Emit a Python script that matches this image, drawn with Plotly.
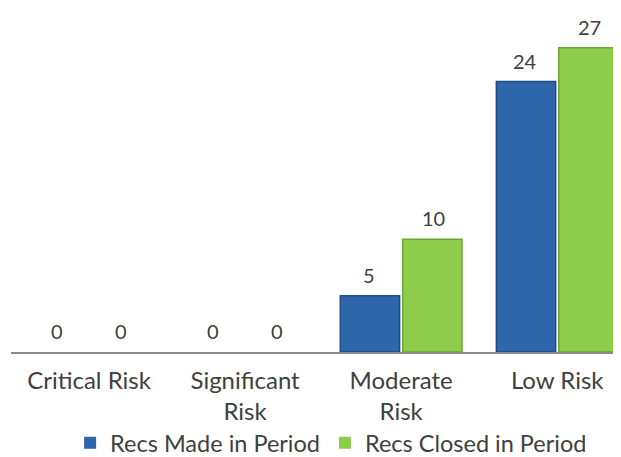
import plotly.graph_objects as go

categories = ["Critical Risk", "Significant<br>Risk", "Moderate<br>Risk", "Low Risk"]
made = [0, 0, 5, 24]
closed = [0, 0, 10, 27]
series_names = ["Recs Made in Period", "Recs Closed in Period"]

font_family = "Lato, 'Noto Sans', sans-serif"
text_color = "#404040"
blue, blue_edge = "#2E66AB", "#1F4B84"
green, green_edge = "#8DCD49", "#6DA637"

fig = go.Figure()
fig.add_trace(go.Bar(
    x=categories, y=made, name=series_names[0],
    marker=dict(color=blue, line=dict(color=blue_edge, width=[0 if v == 0 else 1.5 for v in made])),
))
fig.add_trace(go.Bar(
    x=categories, y=closed, name=series_names[1],
    marker=dict(color=green, line=dict(color=green_edge, width=[0 if v == 0 else 1.5 for v in closed])),
))

# value labels above each bar
for vals, shift in ((made, -32), (closed, 32)):
    for cat, v in zip(categories, vals):
        fig.add_annotation(x=cat, y=v, text=str(v), showarrow=False,
                           xshift=shift, yshift=7, yanchor="bottom",
                           font=dict(size=20, color=text_color, family=font_family))

fig.update_layout(
    width=621, height=457,
    margin=dict(l=3, r=0, t=6, b=107),
    paper_bgcolor="white", plot_bgcolor="white",
    barmode="group", bargap=0.2, bargroupgap=0.05,
    font=dict(family=font_family, color=text_color, size=23),
    showlegend=True,
    legend=dict(orientation="h", x=0.518, xanchor="center", y=-0.27, yanchor="middle",
                font=dict(size=23.5, color=text_color), traceorder="normal",
                itemwidth=30),
    xaxis=dict(range=[-0.5, 3.46], showline=True, linecolor="#8A8A8A", linewidth=2,
               ticks="", tickfont=dict(size=24, color=text_color), ticklabelstandoff=6,
               showgrid=False, fixedrange=True),
    yaxis=dict(range=[0, 30], visible=False, showgrid=False, zeroline=False),
)

fig.write_html("out.html")
